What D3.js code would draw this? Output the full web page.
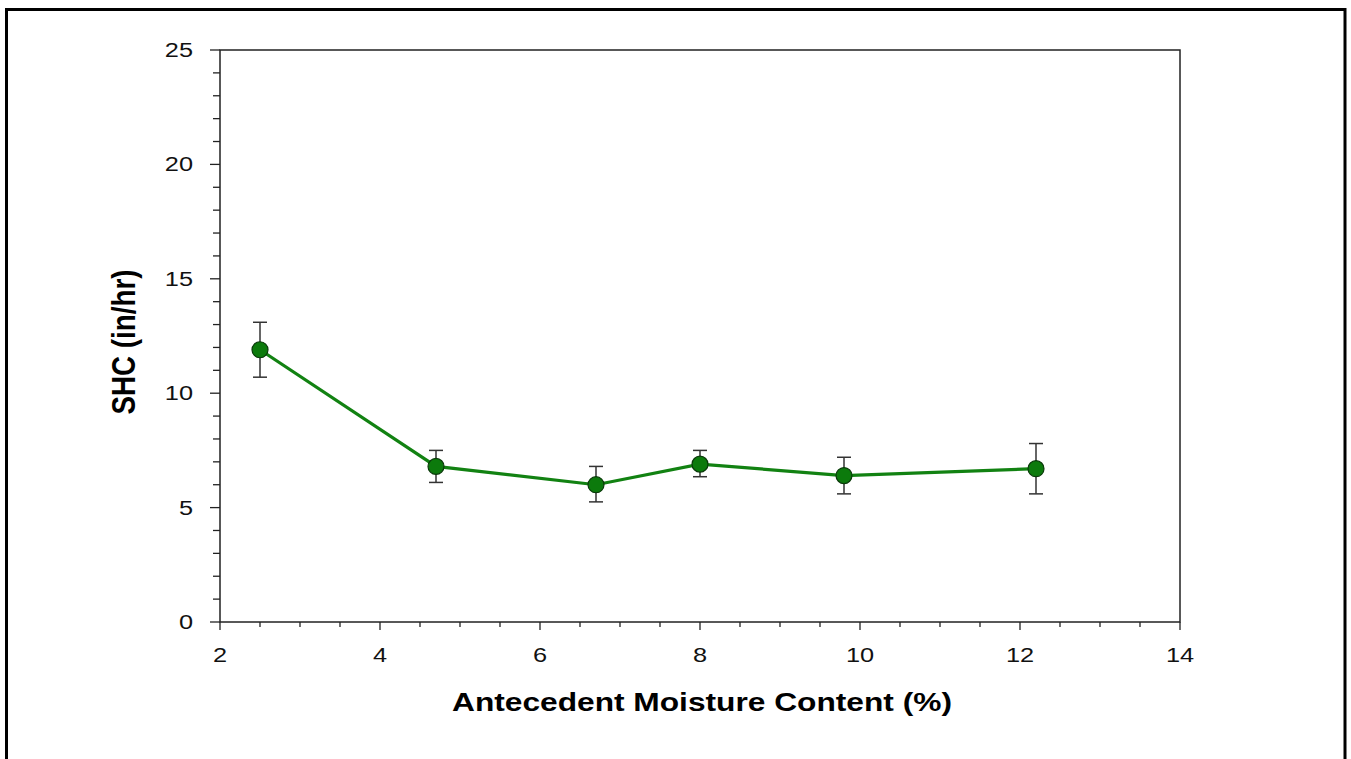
<!DOCTYPE html>
<html>
<head>
<meta charset="utf-8">
<script src="https://cdn.jsdelivr.net/npm/d3@7"></script>
<style>
  body { margin: 0; background: #fff; }
  svg { display: block; font-family: "Liberation Sans", Arial, sans-serif; }
</style>
</head>
<body>
<svg id="chart" width="1351" height="759"></svg>
<script>
// data
var moisture = [2.5, 4.7, 6.7, 8.0, 9.8, 12.2];
var shc      = [11.9, 6.8, 6.0, 6.9, 6.4, 6.7];
var shcLow   = [10.7, 6.1, 5.25, 6.35, 5.6, 5.6];
var shcHigh  = [13.1, 7.5, 6.8, 7.5, 7.2, 7.8];
var xTicks = [2, 4, 6, 8, 10, 12, 14];
var yTicks = [0, 5, 10, 15, 20, 25];

var svg = d3.select("#chart");
var plotL = 220, plotR = 1180, plotT = 50, plotB = 622;
var stretch = 1.3; // text in the reference is drawn wide

var x = d3.scaleLinear().domain([2, 14]).range([plotL, plotR]);
var y = d3.scaleLinear().domain([0, 25]).range([plotB, plotT]);

// outer frame (open at the bottom)
svg.append("rect")
  .attr("x", 6.5).attr("y", 9.5)
  .attr("width", 1338.5).attr("height", 800)
  .attr("fill", "none").attr("stroke", "#000").attr("stroke-width", 3);

// plot box
svg.append("rect")
  .attr("x", plotL).attr("y", plotT)
  .attr("width", plotR - plotL).attr("height", plotB - plotT)
  .attr("fill", "none").attr("stroke", "#222").attr("stroke-width", 1.5);

// y ticks
var yMinor = d3.range(0, 25.01, 1);
svg.append("g").selectAll("line").data(yMinor).enter().append("line")
  .attr("x1", function(d) { return plotL - (d % 5 === 0 ? 10 : 7); })
  .attr("x2", plotL)
  .attr("y1", function(d) { return y(d); })
  .attr("y2", function(d) { return y(d); })
  .attr("stroke", "#222").attr("stroke-width", 1.3);

svg.append("g").selectAll("text").data(yTicks).enter().append("text")
  .attr("transform", function(d) { return "translate(" + (plotL - 27) + "," + (y(d) + 7) + ") scale(" + stretch + ",1)"; })
  .attr("text-anchor", "end")
  .attr("font-size", 19.5)
  .attr("fill", "#111")
  .text(function(d) { return d; });

// x ticks
var xMinor = d3.range(2, 14.01, 0.5);
svg.append("g").selectAll("line").data(xMinor).enter().append("line")
  .attr("x1", function(d) { return x(d); })
  .attr("x2", function(d) { return x(d); })
  .attr("y1", plotB)
  .attr("y2", function(d) { return plotB + (d % 2 === 0 ? 8 : 5); })
  .attr("stroke", "#222").attr("stroke-width", 1.3);

svg.append("g").selectAll("text").data(xTicks).enter().append("text")
  .attr("transform", function(d) { return "translate(" + x(d) + ",662) scale(" + stretch + ",1)"; })
  .attr("text-anchor", "middle")
  .attr("font-size", 19.5)
  .attr("fill", "#111")
  .text(function(d) { return d; });

// axis titles
svg.append("text")
  .attr("x", 702).attr("y", 711)
  .attr("text-anchor", "middle")
  .attr("font-size", 25).attr("font-weight", "bold")
  .attr("textLength", 500).attr("lengthAdjust", "spacingAndGlyphs")
  .text("Antecedent Moisture Content (%)");

svg.append("text")
  .attr("transform", "translate(135,342) scale(" + stretch + ",1) rotate(-90)")
  .attr("text-anchor", "middle")
  .attr("font-size", 25).attr("font-weight", "bold")
  .attr("textLength", 145).attr("lengthAdjust", "spacingAndGlyphs")
  .text("SHC (in/hr)");

var pts = moisture.map(function(m, i) {
  return { x: m, y: shc[i], lo: shcLow[i], hi: shcHigh[i] };
});

// error bars
var eb = svg.append("g").attr("stroke", "#333").attr("stroke-width", 1.5);
eb.selectAll(".v").data(pts).enter().append("line")
  .attr("x1", function(d) { return x(d.x); }).attr("x2", function(d) { return x(d.x); })
  .attr("y1", function(d) { return y(d.lo); }).attr("y2", function(d) { return y(d.hi); });
eb.selectAll(".t").data(pts).enter().append("line")
  .attr("x1", function(d) { return x(d.x) - 7; }).attr("x2", function(d) { return x(d.x) + 7; })
  .attr("y1", function(d) { return y(d.hi); }).attr("y2", function(d) { return y(d.hi); });
eb.selectAll(".b").data(pts).enter().append("line")
  .attr("x1", function(d) { return x(d.x) - 7; }).attr("x2", function(d) { return x(d.x) + 7; })
  .attr("y1", function(d) { return y(d.lo); }).attr("y2", function(d) { return y(d.lo); });

// line
var line = d3.line().x(function(d) { return x(d.x); }).y(function(d) { return y(d.y); });
svg.append("path")
  .datum(pts)
  .attr("d", line)
  .attr("fill", "none")
  .attr("stroke", "#128212")
  .attr("stroke-width", 3.2);

// markers
svg.append("g").selectAll("circle").data(pts).enter().append("circle")
  .attr("cx", function(d) { return x(d.x); })
  .attr("cy", function(d) { return y(d.y); })
  .attr("r", 8)
  .attr("fill", "#0c7a0c")
  .attr("stroke", "#0a3a0a")
  .attr("stroke-width", 1.2);
</script>
</body>
</html>
